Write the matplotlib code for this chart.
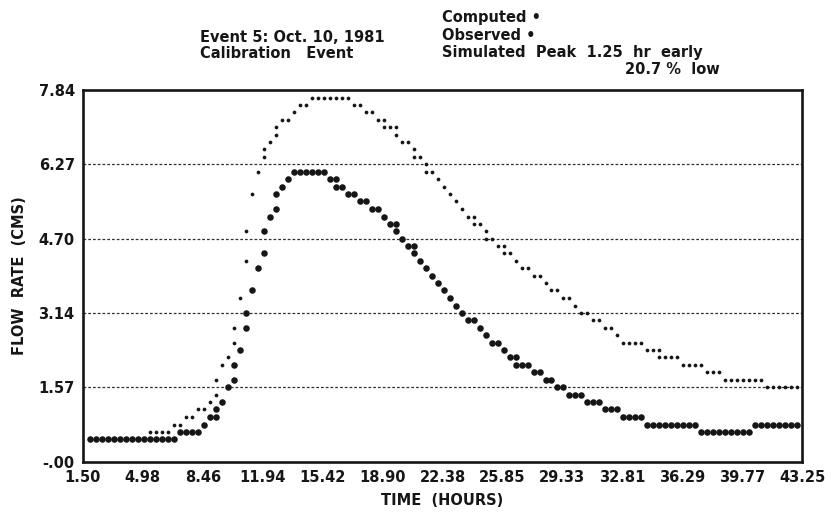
import numpy as np
import matplotlib
matplotlib.use("Agg")
import matplotlib.pyplot as plt

plt.rcParams['font.family'] = ['DejaVu Sans']
plt.rcParams['font.weight'] = 'bold'

# printer plot: time of column 0 and hours per printer column
T0 = 1.56
DT = 0.348

y_ticks = [0.0, 1.57, 3.14, 4.70, 6.27, 7.84]
y_tick_labels = ["-.00", "1.57", "3.14", "4.70", "6.27", "7.84"]
x_ticks = [1.50, 4.98, 8.46, 11.94, 15.42, 18.90, 22.38, 25.85, 29.33, 32.81, 36.29, 39.77, 43.25]
x_tick_labels = ["1.50", "4.98", "8.46", "11.94", "15.42", "18.90", "22.38",
                 "25.85", "29.33", "32.81", "36.29", "39.77", "43.25"]
grid_levels = [1.57, 3.14, 4.70, 6.27]

# (printer column, flow CMS)
computed_points = [
    (1, 0.47), (2, 0.47), (3, 0.47), (4, 0.47), (5, 0.47), (6, 0.47), (7, 0.47), (8, 0.47),
    (9, 0.47), (10, 0.47), (11, 0.47), (12, 0.47), (13, 0.47), (14, 0.47), (15, 0.47),
    (16, 0.63), (17, 0.63), (18, 0.63), (19, 0.63),
    (20, 0.78), (21, 0.94), (22, 0.94), (22, 1.10), (23, 1.25), (24, 1.57), (25, 1.72), (25, 2.04),
    (26, 2.35), (27, 2.82), (27, 3.14), (28, 3.61), (29, 4.08), (30, 4.39), (30, 4.86), (31, 5.17),
    (32, 5.33), (32, 5.64), (33, 5.80), (34, 5.96),
    (35, 6.12), (36, 6.12), (37, 6.12), (38, 6.12), (39, 6.12), (40, 6.12),
    (41, 5.96), (42, 5.96), (42, 5.80), (43, 5.80), (44, 5.64), (45, 5.64), (46, 5.49), (47, 5.49),
    (48, 5.33), (49, 5.33), (50, 5.17), (51, 5.02), (52, 5.02), (52, 4.86), (53, 4.70), (54, 4.55),
    (55, 4.55), (55, 4.39), (56, 4.23), (57, 4.08), (58, 3.92), (59, 3.76), (60, 3.61), (61, 3.45),
    (62, 3.29), (63, 3.14), (64, 2.98), (65, 2.98), (66, 2.82), (67, 2.67), (68, 2.51), (69, 2.51),
    (70, 2.35), (71, 2.20), (72, 2.20), (72, 2.04), (73, 2.04), (74, 2.04), (75, 1.88), (76, 1.88),
    (77, 1.72), (78, 1.72), (79, 1.57), (80, 1.57), (81, 1.41), (82, 1.41), (83, 1.41),
    (84, 1.25), (85, 1.25), (86, 1.25), (87, 1.10), (88, 1.10), (89, 1.10),
    (90, 0.94), (91, 0.94), (92, 0.94), (93, 0.94),
    (94, 0.78), (95, 0.78), (96, 0.78), (97, 0.78), (98, 0.78), (99, 0.78), (100, 0.78),
    (101, 0.78), (102, 0.78),
    (103, 0.63), (104, 0.63), (105, 0.63), (106, 0.63), (107, 0.63), (108, 0.63), (109, 0.63),
    (110, 0.63), (111, 0.63),
    (112, 0.78), (113, 0.78), (114, 0.78), (115, 0.78), (116, 0.78), (117, 0.78), (118, 0.78),
    (119, 0.78),
]

observed_points = [
    (1, 0.47), (2, 0.47), (3, 0.47), (4, 0.47), (5, 0.47), (6, 0.47), (7, 0.47), (8, 0.47),
    (9, 0.47), (10, 0.47),
    (11, 0.63), (12, 0.63), (13, 0.63), (14, 0.63),
    (15, 0.78), (16, 0.78), (17, 0.94), (18, 0.94), (19, 1.10), (20, 1.10), (21, 1.25),
    (22, 1.41), (22, 1.72), (23, 2.04), (24, 2.20), (25, 2.51), (25, 2.82), (26, 3.45),
    (27, 4.23), (27, 4.86), (28, 5.64), (29, 6.12), (30, 6.43), (30, 6.59), (31, 6.74),
    (32, 6.90), (32, 7.06), (33, 7.21), (34, 7.21), (35, 7.37), (36, 7.53), (37, 7.53),
    (38, 7.68), (39, 7.68), (40, 7.68), (41, 7.68), (42, 7.68), (43, 7.68), (44, 7.68),
    (45, 7.53), (46, 7.53), (47, 7.37), (48, 7.37), (49, 7.21), (50, 7.21), (50, 7.06),
    (51, 7.06), (52, 7.06), (52, 6.90), (53, 6.74), (54, 6.74), (55, 6.59), (55, 6.43),
    (56, 6.43), (57, 6.27), (57, 6.12), (58, 6.12), (59, 5.96), (60, 5.80), (61, 5.64),
    (62, 5.49), (63, 5.33), (64, 5.17), (65, 5.17), (65, 5.02), (66, 5.02), (67, 4.86),
    (67, 4.70), (68, 4.70), (69, 4.55), (70, 4.55), (70, 4.39), (71, 4.39), (72, 4.23),
    (73, 4.08), (74, 4.08), (75, 3.92), (76, 3.92), (77, 3.76), (78, 3.61), (79, 3.61),
    (80, 3.45), (81, 3.45), (82, 3.29), (83, 3.14), (84, 3.14), (85, 2.98), (86, 2.98),
    (87, 2.82), (88, 2.82), (89, 2.67),
    (90, 2.51), (91, 2.51), (92, 2.51), (93, 2.51),
    (94, 2.35), (95, 2.35), (96, 2.35),
    (96, 2.20), (97, 2.20), (98, 2.20), (99, 2.20),
    (100, 2.04), (101, 2.04), (102, 2.04), (103, 2.04),
    (104, 1.88), (105, 1.88), (106, 1.88),
    (107, 1.72), (108, 1.72), (109, 1.72), (110, 1.72), (111, 1.72), (112, 1.72), (113, 1.72),
    (114, 1.57), (115, 1.57), (116, 1.57), (117, 1.57), (118, 1.57), (119, 1.57),
]

W, H = 831, 516
fig = plt.figure(figsize=(W / 100, H / 100), dpi=100)
ax = fig.add_axes([83 / W, 1 - 461.5 / H, (802 - 83) / W, (461.5 - 90) / H])

ink = '#161616'
for g in grid_levels:
    ax.axhline(g, color='#303030', lw=0.9, ls=(0, (2.2, 1.6)), zorder=1)

cc = np.array(computed_points)
oc = np.array(observed_points)
ax.plot(T0 + DT * oc[:, 0], oc[:, 1], 'o', ms=2.7, color=ink, mec='none', zorder=3)
ax.plot(T0 + DT * cc[:, 0], cc[:, 1], 'o', ms=4.7, color=ink, mec='none', zorder=4)

ax.set_xlim(x_ticks[0], x_ticks[-1])
ax.set_ylim(y_ticks[0], y_ticks[-1])
ax.set_xticks(x_ticks)
ax.set_xticklabels(x_tick_labels, fontsize=10.5, fontweight='bold')
ax.set_yticks(y_ticks)
ax.set_yticklabels(y_tick_labels, fontsize=10.5, fontweight='bold')
ax.tick_params(length=0, pad=6, colors=ink)
for s in ax.spines.values():
    s.set_linewidth(1.9)
    s.set_color(ink)

ax.set_xlabel("TIME  (HOURS)", fontsize=10.5, fontweight='bold', color=ink, labelpad=6)
ax.set_ylabel("FLOW  RATE  (CMS)", fontsize=10.5, fontweight='bold', color=ink, labelpad=8)

def ftext(x, y, s, ha='left'):
    fig.text(x / W, 1 - y / H, s, fontsize=10.5, fontweight='bold', color=ink,
             va='center', ha=ha)

ftext(200, 37, "Event 5: Oct. 10, 1981")
ftext(200, 54, "Calibration   Event")
ftext(442, 17, "Computed \u2022")
ftext(442, 35, "Observed \u2022")
ftext(442, 52, "Simulated  Peak  1.25  hr  early")
ftext(720, 70, "20.7 %  low", ha='right')

fig.savefig("out.png", dpi=100)
